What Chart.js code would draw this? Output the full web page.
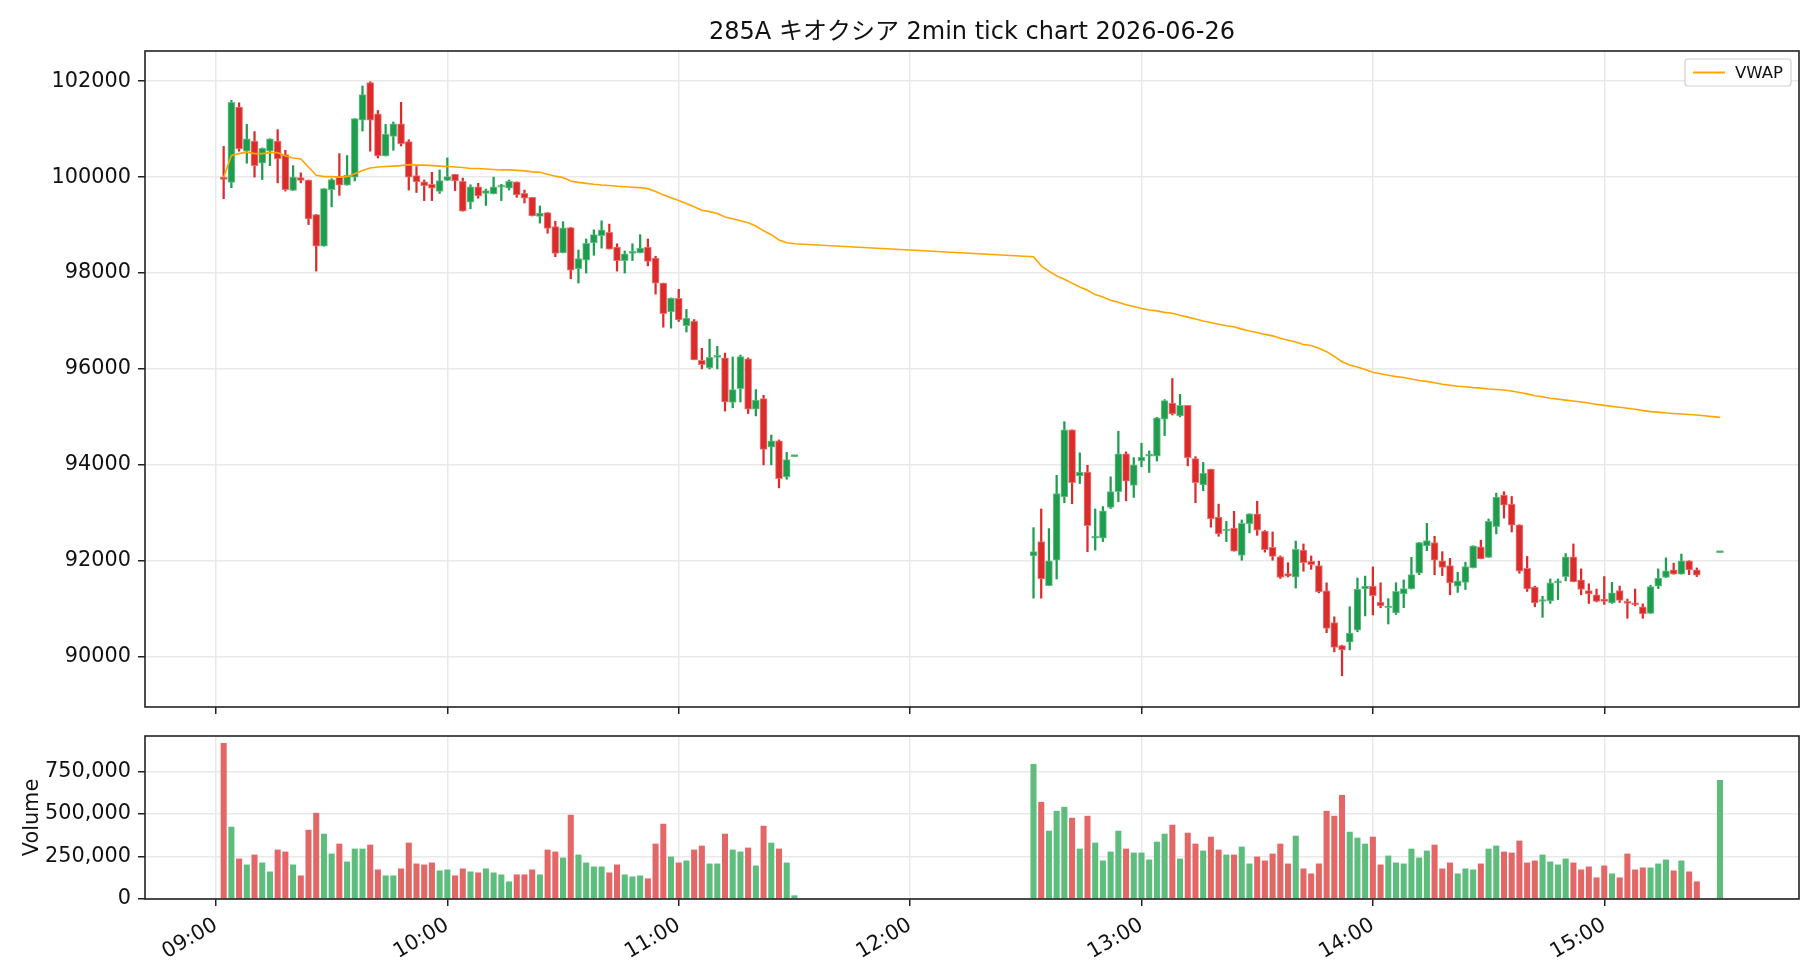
<!DOCTYPE html>
<html>
<head>
<meta charset="utf-8">
<script src="https://cdn.jsdelivr.net/npm/chart.js@4.4.1/dist/chart.umd.min.js"></script>
<style>
  body { margin: 0; background: #fff; width: 1820px; height: 980px; overflow: hidden; position: relative; }
  canvas { position: absolute; left: 0; }
  #price { top: 0; }
  #volume { top: 720px; }
</style>
</head>
<body>
<canvas id="price" width="1820" height="720"></canvas>
<canvas id="volume" width="1820" height="260"></canvas>
<script>
const chartTitle = '285A キオクシア 2min tick chart 2026-06-26';

// 2-minute bars, morning and afternoon sessions (11:30 / 15:30 are the closing auctions)
const times = [
  '09:02','09:04','09:06','09:08','09:10','09:12','09:14','09:16','09:18','09:20',
  '09:22','09:24','09:26','09:28','09:30','09:32','09:34','09:36','09:38','09:40',
  '09:42','09:44','09:46','09:48','09:50','09:52','09:54','09:56','09:58','10:00',
  '10:02','10:04','10:06','10:08','10:10','10:12','10:14','10:16','10:18','10:20',
  '10:22','10:24','10:26','10:28','10:30','10:32','10:34','10:36','10:38','10:40',
  '10:42','10:44','10:46','10:48','10:50','10:52','10:54','10:56','10:58','11:00',
  '11:02','11:04','11:06','11:08','11:10','11:12','11:14','11:16','11:18','11:20',
  '11:22','11:24','11:26','11:28','11:30',
  '12:32','12:34','12:36','12:38','12:40','12:42','12:44','12:46','12:48','12:50',
  '12:52','12:54','12:56','12:58','13:00','13:02','13:04','13:06','13:08','13:10',
  '13:12','13:14','13:16','13:18','13:20','13:22','13:24','13:26','13:28','13:30',
  '13:32','13:34','13:36','13:38','13:40','13:42','13:44','13:46','13:48','13:50',
  '13:52','13:54','13:56','13:58','14:00','14:02','14:04','14:06','14:08','14:10',
  '14:12','14:14','14:16','14:18','14:20','14:22','14:24','14:26','14:28','14:30',
  '14:32','14:34','14:36','14:38','14:40','14:42','14:44','14:46','14:48','14:50',
  '14:52','14:54','14:56','14:58','15:00','15:02','15:04','15:06','15:08','15:10',
  '15:12','15:14','15:16','15:18','15:20','15:22','15:24','15:30'
];

const opens = [
  100000,99890,101460,100540,100750,100290,100540,100750,100470,99720,
  99990,99940,99220,98560,99740,100000,99830,100000,101190,101970,
  101320,100440,100850,101110,100740,100030,99900,99850,99700,99930,
  100060,99910,99480,99800,99660,99650,99790,99770,99900,99660,
  99580,99180,99260,98970,98420,98950,98090,98270,98630,98780,
  98850,98540,98260,98410,98420,98540,98310,97790,97190,97470,
  96900,97000,96180,96020,96240,96230,95300,95590,96210,95160,
  95380,94370,94500,93750,94170,
  92100,92400,91480,92010,93330,94730,93770,93850,92470,92470,
  93110,93440,94230,93570,94080,94180,94180,94950,95290,95020,
  95240,94130,93580,93910,92910,92620,92680,92110,92770,92980,
  92620,92280,92080,91730,91660,92220,91990,91900,91370,90710,
  90230,90300,90550,91410,91470,91140,91020,90910,91310,91410,
  91740,92310,92380,92000,91900,91470,91550,91850,92290,92070,
  92710,93370,93180,92750,91840,91450,91150,91160,91540,91670,
  92080,91600,91380,91290,91200,91120,91380,91150,91110,91040,
  90900,91470,91650,91810,91720,92000,91810,92170
];
const highs = [
  100640,101600,101550,101100,100950,100610,100800,100990,100560,100240,
  100090,99940,99220,99760,99970,100490,100450,101220,101900,101990,
  101390,101100,101150,101560,100780,100220,99940,100100,100150,100400,
  100060,99980,99840,99870,99750,100000,99850,99940,99900,99730,
  99580,99400,99260,99080,99070,98950,98480,98710,98900,99090,
  99020,98610,98460,98610,98800,98710,98350,97790,97480,97660,
  97240,97030,96430,96620,96470,96330,96250,96290,96230,95570,
  95450,94620,94520,94260,94170,
  92690,93080,92670,93780,94900,94730,94250,93990,93080,93130,
  93750,94700,94270,94150,94450,94290,94990,95360,95800,95470,
  95240,94170,94050,93910,93180,92820,93030,92850,92980,93240,
  92630,92600,92100,91960,92410,92350,92100,91990,91540,90830,
  90240,91040,91640,91680,91870,91540,91210,91540,91600,92070,
  92380,92780,92510,92190,92050,91760,91970,92310,92430,92870,
  93410,93440,93340,92750,92090,91470,91260,91620,91620,92150,
  92350,91830,91520,91410,91670,91550,91470,91200,91410,91100,
  91490,91830,92060,91950,92140,92000,91850,92170
];
const lows = [
  99550,99780,100540,100290,100000,99950,100240,99880,99710,99720,
  99880,99010,98040,98560,99380,99620,99830,99920,100960,100540,
  100400,100440,100560,100650,99730,99680,99510,99510,99660,99930,
  99720,99290,99340,99560,99410,99650,99510,99730,99580,99460,
  99190,99040,98830,98340,98420,97880,97790,98000,98370,98520,
  98500,98040,98000,98260,98420,98150,97560,96870,96850,96990,
  96770,96190,96000,96000,96000,95120,95190,95310,95070,95020,
  94000,94000,93520,93700,94170,
  91220,91220,91480,91620,93210,93190,93610,92190,92220,92400,
  93090,93230,93250,93320,93960,93840,94080,94610,95040,95000,
  93980,93210,93460,92700,92510,92400,92200,92010,92580,92530,
  92180,92010,91630,91660,91430,91780,91820,91330,90500,90100,
  89600,90140,90520,90850,90870,91020,90680,90880,91020,91410,
  91710,92210,91710,91690,91290,91340,91400,91850,92040,92070,
  92560,92890,92600,91740,91360,91040,90820,91110,91190,91580,
  91560,91290,91110,91140,91090,91110,91130,90800,91060,90800,
  90900,91420,91650,91720,91720,91710,91670,92170
];
const closes = [
  99950,101560,100590,100800,100240,100600,100800,100380,99740,100000,
  99930,99130,98560,99760,99950,99830,100040,101220,101720,101190,
  100440,100900,101110,100690,100000,99900,99820,99770,99930,100010,
  99920,99290,99800,99610,99720,99800,99820,99910,99630,99560,
  99190,99250,98930,98410,98940,98060,98300,98620,98800,98900,
  98500,98260,98400,98440,98520,98240,97790,97150,97480,97020,
  97060,96190,96090,96240,96260,95310,95570,96260,95160,95350,
  94320,94500,93710,94110,94170,
  92190,91620,92000,93400,94730,93630,93850,92730,92490,93040,
  93440,94230,93660,94000,94160,94200,94980,95340,95060,95240,
  94150,93630,93830,92870,92560,92640,92200,92780,92980,92640,
  92230,92090,91650,91680,92240,91960,91920,91350,90590,90190,
  90140,90490,91410,91470,91270,91060,91050,91360,91420,91710,
  92380,92420,92010,91860,91540,91580,91880,92310,92040,92820,
  93330,93160,92740,91780,91410,91120,91170,91540,91580,92080,
  91560,91400,91310,91150,91150,91330,91170,91110,91080,90890,
  91460,91640,91790,91720,92000,91810,91700,92170
];
const volumes = [
  915600,422700,235700,200600,259100,212300,159700,288300,276600,200600,
  136400,405200,504500,381800,264900,323400,218200,294100,294100,317500,
  171400,136400,136400,177300,329200,206500,200600,212300,165600,171400,
  136400,177300,159700,153900,177300,153900,142200,101300,142200,142200,
  171400,142200,288300,276600,241600,492800,259100,212300,189000,189000,
  153900,200600,142200,130500,136400,118800,323400,440200,247400,212300,
  224000,288300,311700,206500,206500,381800,288300,276600,300000,194800,
  428600,329200,294100,212300,19500,
  790900,568800,399300,516200,539600,475300,294100,487000,329200,224000,
  276600,399300,294100,270800,270800,229900,335100,381800,434400,235700,
  387700,323400,282500,364300,288300,259100,259100,305800,206500,247400,
  224000,264900,323400,206500,370100,177300,148000,206500,516200,487000,
  609700,393500,358400,323400,364300,200600,253200,212300,206500,294100,
  241600,282500,317500,177300,212300,148000,177300,171400,206500,294100,
  311700,276600,270800,340900,212300,224000,259100,218200,200600,235700,
  212300,171400,189000,124700,194800,148000,124700,264900,171400,183100,
  183100,206500,229900,165600,224000,159700,101300,697400
];
const vwap = [
  99990,100450,100490,100520,100490,100490,100510,100510,100440,100400,
  100380,100210,100040,100010,100010,100000,100010,100070,100140,100190,
  100210,100220,100230,100240,100260,100250,100250,100240,100230,100220,
  100210,100200,100180,100180,100170,100160,100150,100150,100140,100130,
  100110,100100,100060,100020,99990,99920,99890,99870,99850,99835,
  99825,99810,99800,99790,99780,99760,99700,99630,99570,99510,
  99450,99380,99310,99280,99240,99170,99130,99090,99050,98980,
  98880,98800,98690,98630,98610,
  98340,98150,98040,97940,97870,97790,97710,97640,97550,97500,
  97430,97390,97340,97300,97260,97230,97210,97180,97160,97120,
  97080,97040,97000,96970,96930,96900,96880,96830,96790,96760,
  96720,96690,96640,96600,96560,96510,96490,96430,96360,96260,
  96150,96080,96040,95990,95930,95900,95870,95840,95820,95790,
  95760,95740,95710,95680,95660,95640,95630,95610,95600,95580,
  95570,95560,95540,95510,95480,95440,95420,95390,95370,95350,
  95330,95310,95290,95260,95240,95220,95200,95180,95160,95130,
  95110,95100,95080,95070,95060,95050,95040,94990
];

const hourTicks = ['09:00','10:00','11:00','12:00','13:00','14:00','15:00'];
const priceTicks = [90000, 92000, 94000, 96000, 98000, 100000, 102000];
const volumeTicks = [0, 250000, 500000, 750000];

const FONT = '"DejaVu Sans", "Noto Sans CJK JP", sans-serif';
const UP = '#1f9d4f', DOWN = '#db2c2c';
const UP_EDGE = 'rgba(95,190,128,0.9)', DOWN_EDGE = 'rgba(236,110,110,0.9)';
const UP_VOL = '#5dbd7d', DOWN_VOL = '#e46767';
const VWAP_COLOR = '#ffa500';

const toMin = t => { const p = t.split(':'); return (+p[0]) * 60 + (+p[1]); };
const fmtMin = v => String(Math.floor(v / 60)).padStart(2, '0') + ':' + String(v % 60).padStart(2, '0');
const xs = times.map(toMin);
const up = closes.map((c, i) => c >= opens[i]);
const xMin = 521.6, xMax = 950.5;

const grid = { color: '#e9e9e9', lineWidth: 1.5, tickColor: '#222', tickLength: 7, tickWidth: 1.5, offset: false };

// fixed axis sizes so both panels line up with the reference
const fixY = s => { s.width = 145; s.paddingTop = 0; s.paddingBottom = 0; };
const fixX = h => s => { s.height = h; s.paddingLeft = 0; s.paddingRight = 0; };

const frame = {
  id: 'frame',
  afterDatasetsDraw(chart) {
    const { ctx, chartArea: a } = chart;
    ctx.save();
    ctx.strokeStyle = '#222';
    ctx.lineWidth = 1.6;
    ctx.strokeRect(a.left, a.top, a.right - a.left, a.bottom - a.top);
    ctx.restore();
  }
};

const titlePlugin = {
  id: 'titleText',
  afterDraw(chart) {
    const { ctx, chartArea: a } = chart;
    ctx.save();
    ctx.fillStyle = '#111';
    ctx.font = '24px ' + FONT;
    ctx.textAlign = 'center';
    ctx.textBaseline = 'middle';
    ctx.fillText(chartTitle, (a.left + a.right) / 2, 33);
    ctx.restore();
  }
};

const legendBox = {
  id: 'legendBox',
  afterDraw(chart) {
    const { ctx, chartArea: a } = chart;
    const x = a.right - 114, y = a.top + 8, w = 106, h = 27;
    ctx.save();
    ctx.fillStyle = 'rgba(255,255,255,0.85)';
    ctx.strokeStyle = '#d0d0d0';
    ctx.lineWidth = 1.2;
    ctx.beginPath();
    ctx.roundRect(x, y, w, h, 3);
    ctx.fill();
    ctx.stroke();
    ctx.strokeStyle = VWAP_COLOR;
    ctx.lineWidth = 2;
    ctx.beginPath();
    ctx.moveTo(x + 8, y + h / 2);
    ctx.lineTo(x + 40, y + h / 2);
    ctx.stroke();
    ctx.fillStyle = '#111';
    ctx.font = '16.5px ' + FONT;
    ctx.textBaseline = 'middle';
    ctx.fillText('VWAP', x + 50, y + h / 2 + 1);
    ctx.restore();
  }
};

new Chart(document.getElementById('price'), {
  type: 'bar',
  data: {
    datasets: [
      {
        type: 'line',
        label: 'VWAP',
        data: xs.map((x, i) => ({ x, y: vwap[i] })),
        borderColor: VWAP_COLOR,
        borderWidth: 1.6,
        pointRadius: 0,
        tension: 0,
        order: 0
      },
      {
        label: 'body',
        data: xs.map((x, i) => ({ x, y: [opens[i], closes[i]] })),
        backgroundColor: up.map(u => u ? UP : DOWN),
        borderColor: up.map(u => u ? UP_EDGE : DOWN_EDGE),
        borderWidth: 1,
        borderSkipped: false,
        barThickness: 7,
        minBarLength: 2,
        grouped: false,
        order: 1
      },
      {
        label: 'wick',
        data: xs.map((x, i) => ({ x, y: [lows[i], highs[i]] })),
        backgroundColor: up.map(u => u ? UP : DOWN),
        barThickness: 1.6,
        grouped: false,
        order: 2
      }
    ]
  },
  options: {
    responsive: false,
    animation: false,
    devicePixelRatio: 1,
    layout: { padding: { left: 0, right: 21, top: 51, bottom: 0 } },
    plugins: { legend: { display: false }, tooltip: { enabled: false } },
    scales: {
      x: {
        type: 'linear',
        min: xMin, max: xMax,
        offset: false,
        grid: grid,
        border: { display: false },
        ticks: { callback: () => '' },
        afterBuildTicks: s => { s.ticks = hourTicks.map(t => ({ value: toMin(t) })); },
        afterFit: fixX(13)
      },
      y: {
        min: 88950, max: 102630,
        grid: grid,
        border: { display: false },
        ticks: { color: '#111', font: { family: FONT, size: 20.8 }, padding: 7, callback: v => String(v) },
        afterBuildTicks: s => { s.ticks = priceTicks.map(v => ({ value: v })); },
        afterFit: fixY
      }
    }
  },
  plugins: [frame, titlePlugin, legendBox]
});

new Chart(document.getElementById('volume'), {
  type: 'bar',
  data: {
    datasets: [{
      label: 'Volume',
      data: xs.map((x, i) => ({ x, y: volumes[i] })),
      backgroundColor: up.map(u => u ? UP_VOL : DOWN_VOL),
      barThickness: 5.4,
      grouped: false
    }]
  },
  options: {
    responsive: false,
    animation: false,
    devicePixelRatio: 1,
    layout: { padding: { left: 0, right: 21, top: 16, bottom: 0 } },
    plugins: { legend: { display: false }, tooltip: { enabled: false } },
    scales: {
      x: {
        type: 'linear',
        min: xMin, max: xMax,
        offset: false,
        grid: grid,
        border: { display: false },
        ticks: {
          color: '#111', font: { family: FONT, size: 20.8 }, padding: 7,
          maxRotation: 30, minRotation: 30,
          callback: v => fmtMin(v)
        },
        afterBuildTicks: s => { s.ticks = hourTicks.map(t => ({ value: toMin(t) })); },
        afterFit: fixX(81)
      },
      y: {
        min: 0, max: 958000,
        grid: grid,
        border: { display: false },
        title: { display: true, text: 'Volume', color: '#111', font: { family: FONT, size: 20.8 }, padding: { top: 20, bottom: 0 } },
        ticks: { color: '#111', font: { family: FONT, size: 20.8 }, padding: 7, callback: v => v.toLocaleString('en-US') },
        afterBuildTicks: s => { s.ticks = volumeTicks.map(v => ({ value: v })); },
        afterFit: fixY
      }
    }
  },
  plugins: [frame]
});
</script>
</body>
</html>
